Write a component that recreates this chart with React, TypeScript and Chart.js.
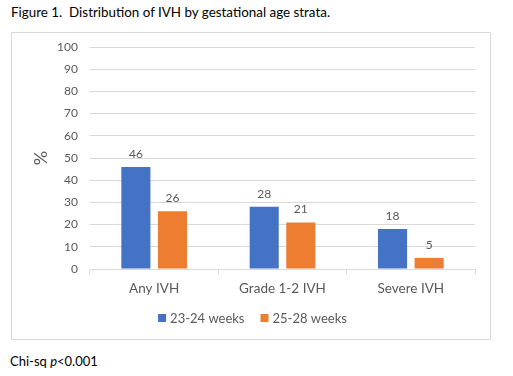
import React, { useEffect, useRef } from "react";
import { Chart, registerables } from "chart.js";

Chart.register(...registerables);

const categories = ["Any IVH", "Grade 1-2 IVH", "Severe IVH"];
const series1Label = "23-24 weeks";
const series2Label = "25-28 weeks";
const series1 = [46, 28, 18];
const series2 = [26, 21, 5];
const yTicks = { min: 0, max: 100, step: 10 };

const FONT = "Lato, 'Open Sans', sans-serif";
const GREY = "#595959";

const labelPlugin = {
  id: "barLabels",
  afterDatasetsDraw(chart: any) {
    const ctx = chart.ctx;
    ctx.save();
    ctx.font = `12px ${FONT}`;
    ctx.fillStyle = GREY;
    ctx.textAlign = "center";
    ctx.textBaseline = "alphabetic";
    chart.data.datasets.forEach((ds: any, i: number) => {
      const meta = chart.getDatasetMeta(i);
      meta.data.forEach((bar: any, j: number) => {
        ctx.fillText(String(ds.data[j]), bar.x, bar.y - 9);
      });
    });
    // y axis title
    const ca = chart.chartArea;
    ctx.save();
    ctx.translate(29, (ca.top + ca.bottom) / 2);
    ctx.rotate(-Math.PI / 2);
    ctx.font = `18px ${FONT}`;
    ctx.textBaseline = "middle";
    ctx.fillText("%", 0, 0);
    ctx.restore();

    // legend (bottom, centred)
    ctx.font = `13px ${FONT}`;
    ctx.textAlign = "left";
    ctx.textBaseline = "middle";
    const box = 8;
    const gapText = 4;
    const gapItem = 16;
    const items = chart.data.datasets.map((ds: any) => ({
      label: ds.label,
      color: ds.backgroundColor,
      w: box + gapText + ctx.measureText(ds.label).width,
    }));
    const total =
      items.reduce((s: number, it: any) => s + it.w, 0) + gapItem * (items.length - 1);
    let x = 240.5 - total / 2;
    const y = 285;
    items.forEach((it: any) => {
      ctx.fillStyle = it.color;
      ctx.fillRect(x, y - box / 2, box, box);
      ctx.fillStyle = GREY;
      ctx.fillText(it.label, x + box + gapText, y + 0.5);
      x += it.w + gapItem;
    });
    ctx.restore();
  },
};

export default function App() {
  const ref = useRef<HTMLCanvasElement>(null);
  useEffect(() => {
    if (!ref.current) return;
    const chart = new Chart(ref.current, {
      type: "bar",
      data: {
        labels: categories,
        datasets: [
          { label: series1Label, data: series1, backgroundColor: "#4472C4" },
          { label: series2Label, data: series2, backgroundColor: "#ED7D31" },
        ],
      },
      options: {
        animation: false,
        responsive: false,
        maintainAspectRatio: false,
        categoryPercentage: 0.57,
        barPercentage: 0.795,
        layout: { padding: { top: 14, right: 15, bottom: 40, left: 0 } },
        plugins: {
          tooltip: { enabled: false },
          legend: { display: false },
        },
        scales: {
          x: {
            afterFit: (s: any) => {
              s.height = 30;
            },
            grid: {
              offset: true,
              drawOnChartArea: false,
              drawTicks: true,
              tickLength: 5,
              color: "#d9d9d9",
            },
            border: { display: true, color: "#d9d9d9" },
            ticks: {
              font: { family: FONT, size: 13.5 },
              color: GREY,
              padding: 7,
            },
          },
          y: {
            min: yTicks.min,
            max: yTicks.max,
            afterFit: (s: any) => {
              s.width = 78;
            },
            grid: {
              color: "#d9d9d9",
              drawTicks: true,
              tickLength: 6,
              tickColor: "rgba(0,0,0,0)",
            },
            border: { display: false },
            ticks: {
              stepSize: yTicks.step,
              font: { family: FONT, size: 12 },
              color: GREY,
              padding: 6,
            },
          },
        },
      },
      plugins: [labelPlugin],
    });
    return () => chart.destroy();
  }, []);

  return (
    <div
      style={{
        position: "absolute",
        left: 0,
        top: 0,
        width: 513,
        height: 376,
        background: "#fff",
        fontFamily: FONT,
      }}
    >
      <div
        style={{
          position: "absolute",
          left: 11,
          top: 4,
          fontSize: 13.4,
          lineHeight: "16px",
          color: "#000",
          whiteSpace: "pre",
        }}
      >
        {"Figure 1.  Distribution of IVH by gestational age strata."}
      </div>
      <div
        style={{
          position: "absolute",
          left: 11,
          top: 32,
          width: 480,
          height: 308,
          boxSizing: "border-box",
          border: "1px solid #d9d9d9",
        }}
      />
      <canvas
        ref={ref}
        width={478}
        height={306}
        style={{ position: "absolute", left: 12, top: 33, width: 478, height: 306 }}
      />
      <div
        style={{
          position: "absolute",
          left: 10,
          top: 353,
          fontSize: 13,
          lineHeight: "16px",
          color: "#000",
          whiteSpace: "pre",
        }}
      >
        Chi-sq <i>p</i>&lt;0.001
      </div>
    </div>
  );
}
